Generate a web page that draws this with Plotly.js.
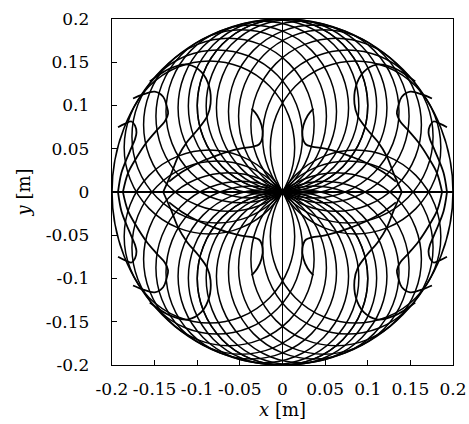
<!DOCTYPE html>
<html><head><meta charset="utf-8">
<script src="https://cdn.plot.ly/plotly-3.0.1.min.js"></script>
<style>
body{margin:0;background:#fff}#c{width:469px;height:424px}
</style></head>
<body><div id="c"></div>
<script>
// centre directions (deg) of the loops that pass through the origin (upper-right; mirrored)
const circleAngles = [31, 40, 51, 61, 68.5, 77, 84, 90];
const loopRadius = 0.1;
const boundaryRadius = 0.2;
const tickVals = [-0.2, -0.15, -0.1, -0.05, 0, 0.05, 0.1, 0.15, 0.2];
const tickText = ['-0.2', '-0.15', '-0.1', '-0.05', '0', '0.05', '0.1', '0.15', '0.2'];
// bulging paths read from the upper-left quadrant (mirrored into the other quadrants)
const bulge1X = [-0.0362, -0.0296, -0.0245, -0.0233, -0.0273, -0.0343, -0.0499, -0.0656, -0.0813, -0.1000, -0.1180, -0.1330];
const bulge1Y = [0.0964, 0.0885, 0.0768, 0.0650, 0.0552, 0.0525, 0.0501, 0.0462, 0.0407, 0.0330, 0.0230, 0.0120];
const bulge2X = [-0.1557, -0.1322, -0.1107, -0.0950, -0.0860, -0.0844, -0.0883, -0.0989, -0.1118, -0.1222, -0.1302, -0.1400];
const bulge2Y = [0.1277, 0.1426, 0.1473, 0.1387, 0.1218, 0.1022, 0.0877, 0.0729, 0.0580, 0.0415, 0.0219, 0.0000];
const bulge3X = [-0.1753, -0.1636, -0.1498, -0.1400, -0.1361, -0.1342, -0.1381, -0.1479, -0.1596, -0.1713, -0.1812, -0.1871];
const bulge3Y = [0.1081, 0.1128, 0.1160, 0.1101, 0.1003, 0.0905, 0.0815, 0.0709, 0.0572, 0.0396, 0.0219, 0.0004];
const bulge4X = [-0.1929, -0.1851, -0.1772, -0.1730, -0.1713, -0.1730, -0.1772, -0.1831, -0.1890, -0.1929];
const bulge4Y = [0.0748, 0.0787, 0.0815, 0.0768, 0.0689, 0.0611, 0.0513, 0.0376, 0.0219, 0.0004];

const quads = [[1, 1], [-1, 1], [1, -1], [-1, -1]];
const shapes = [];
shapes.push({type: 'circle', xref: 'x', yref: 'y', x0: -boundaryRadius, x1: boundaryRadius,
  y0: -boundaryRadius, y1: boundaryRadius, line: {color: '#000', width: 1.6}});
circleAngles.forEach(a => {
  quads.forEach(([sx, sy]) => {
    const cx = sx * loopRadius * Math.cos(a * Math.PI / 180);
    const cy = sy * loopRadius * Math.sin(a * Math.PI / 180);
    shapes.push({type: 'circle', xref: 'x', yref: 'y', x0: cx - loopRadius, x1: cx + loopRadius,
      y0: cy - loopRadius, y1: cy + loopRadius, line: {color: '#000', width: 1.5}});
  });
});
const traces = [];
[[bulge1X, bulge1Y], [bulge2X, bulge2Y], [bulge3X, bulge3Y], [bulge4X, bulge4Y]].forEach(([bx, by]) => {
  quads.forEach(([sx, sy]) => {
    traces.push({x: bx.map(v => -sx * v), y: by.map(v => sy * v), mode: 'lines', type: 'scatter',
      line: {color: '#000', width: 1.8, shape: 'spline'}, hoverinfo: 'skip', showlegend: false});
  });
});

const serif = 'DejaVu Serif';
const axisBase = {
  range: [-0.2, 0.2], tickvals: tickVals, ticktext: tickText, ticks: 'inside', ticklen: 5,
  tickcolor: '#000', showline: true, linecolor: '#000', linewidth: 1.3, mirror: true,
  showgrid: false, zeroline: true, zerolinecolor: '#000', zerolinewidth: 1.2,
  tickfont: {family: serif, size: 17, color: '#000'}
};
const layout = {
  width: 469, height: 424, margin: {l: 112, r: 16, t: 19, b: 59},
  paper_bgcolor: '#fff', plot_bgcolor: '#fff', showlegend: false,
  font: {family: serif, size: 17, color: '#000'},
  xaxis: Object.assign({}, axisBase, {ticklabelstandoff: 8,
    title: {text: '<i>x</i> [m]', standoff: 0, font: {family: serif, size: 18}}}),
  yaxis: Object.assign({}, axisBase, {ticklabelstandoff: 18,
    title: {text: '<i>y</i> [m]', standoff: 10, font: {family: serif, size: 18}}}),
  shapes: shapes
};
Plotly.newPlot('c', traces, layout, {staticPlot: true, displayModeBar: false});
</script></body></html>
